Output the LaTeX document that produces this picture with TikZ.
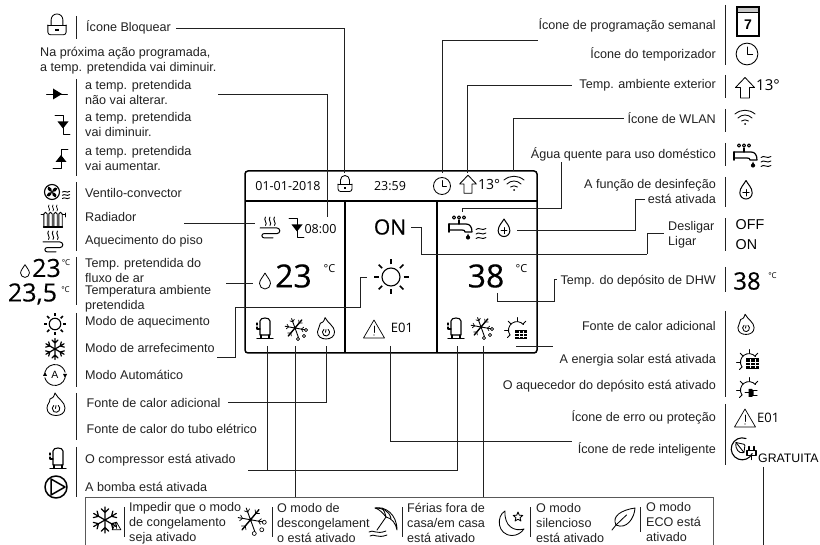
\documentclass[tikz,border=0pt]{standalone}
\usepackage{fontspec}
\setmainfont{Liberation Sans}
\newfontfamily\opsans{Open Sans}
\newfontfamily\opsansb[FakeBold=0.5]{Open Sans}
\newfontfamily\opsansm[FakeBold=0.25]{Open Sans}
\usetikzlibrary{calc}
\definecolor{ink}{gray}{0.13}
\tikzset{
 lbl/.style={font=\fontsize{12.6}{15}\selectfont,inner sep=0pt,anchor=west,align=left,text=ink},
 lblr/.style={font=\fontsize{12.6}{15}\selectfont,inner sep=0pt,anchor=east,align=right,text=ink},
 scr/.style={font=\opsans\fontsize{12.5}{13}\selectfont,inner sep=0pt,text=black},
 big/.style={font=\opsansm\fontsize{32}{32}\selectfont,inner sep=0pt,text=black},
 mid/.style={font=\opsansm\fontsize{25}{25}\selectfont,inner sep=0pt,text=black},
 deg/.style={font=\opsans\fontsize{11}{11}\selectfont,inner sep=0pt,text=black},
 degs/.style={font=\opsans\fontsize{8}{8}\selectfont,inner sep=0pt,text=black},
 frm/.style={line width=1.5pt,black},
 lead/.style={line width=.7pt,ink},
 sep/.style={line width=.8pt,ink},
 ic/.style={line width=.85pt,black,line cap=round,line join=round},
}
\newcommand{\ilock}[2][1]{\begin{scope}[shift={(#2)},scale=#1]\draw[ic](-4.5,0)--(-4.5,-4) arc(180:360:4.5)--(4.5,0);\draw[ic,rounded corners=2.5pt](-7,0)--(-7,7.5)--(7,7.5)--(7,0);\draw[ic](-7,0)--(7,0);\fill(-1.3,3) rectangle(1.3,5);\end{scope}}
\newcommand{\iclk}[2][1]{\begin{scope}[shift={(#2)},scale=#1]\draw[ic](0,0) circle(8.5);\draw[ic](0,-5.5)--(0,0.5)--(4.5,0.5);\end{scope}}
\newcommand{\ihouse}[2][1]{\begin{scope}[shift={(#2)},scale=#1]\draw[ic](-4.5,10.5)--(4.5,10.5)--(4.5,0)--(9.5,0)--(0,-10)--(-9.5,0)--(-4.5,0)--cycle;\end{scope}}
\newcommand{\iwifi}[2][1]{\begin{scope}[shift={(#2)},scale=#1]\draw[ic](-10,-3) .. controls (-4,-8) and (4,-8) .. (10,-3);\draw[ic](-7,1) .. controls (-3,-3) and (3,-3) .. (7,1);\draw[ic](-3.5,4) .. controls (-1,2.5) and (1,2.5) .. (3.5,4);\fill(0,7) circle(1);\end{scope}}
\newcommand{\iwaves}[2][1]{\begin{scope}[shift={(#2)},scale=#1]\foreach \yy in {-4.5,0,4.5}{\draw[ic,line width=.9pt](-5,\yy+.5) .. controls (-2,\yy-2.5) and (1,\yy+2.5) .. (5,\yy-.5);}\end{scope}}
\newcommand{\itap}[2][1]{\begin{scope}[shift={(#2)},scale=#1]
 \draw[ic,line width=1.8pt](-13,-3)--(-13,5);
 \draw[ic,line width=1.2pt](-13,-3)--(4,-3) .. controls (8,-3) and (10,0) .. (10,5)--(3,5) .. controls (3,3.5) and (2,3) .. (0,3)--(-13,3);
 \draw[ic,line width=1.2pt](-3,-3)--(-3,-7);
 \draw[ic,line width=1.1pt](-8,-9.5) circle(1.6)(-3,-9.5) circle(1.6)(2,-9.5) circle(1.6);
 \fill(6,10.5) circle(2.1);\fill(4.6,10)--(6,6.5)--(7.4,10)--cycle;
 \iwaves{19,6.5}
\end{scope}}
\newcommand{\idropp}[2][1]{\begin{scope}[shift={(#2)},scale=#1]\draw[ic,line width=1pt](0,-10) .. controls (-2,-6) and (-6.5,-2.5) .. (-6.5,3) arc(180:0:6.5) .. controls (6.5,-2.5) and (2,-6) .. (0,-10);\draw[ic,line width=1pt](-3.3,3)--(3.3,3)(0,-.3)--(0,6.3);\end{scope}}
\newcommand{\idrop}[2][1]{\begin{scope}[shift={(#2)},scale=#1]\draw[ic,line width=.8pt](0,-8) .. controls (-2,-4) and (-5.5,-1) .. (-5.5,2.5) arc(180:0:5.5) .. controls (5.5,-1) and (2,-4) .. (0,-8);\end{scope}}
\newcommand{\isun}[2][1]{\begin{scope}[shift={(#2)},scale=#1]\draw[ic,line width=1.1pt](0,0) circle(9);\foreach \a in {0,45,...,315}{\draw[line width=1.5pt](\a:12.5)--(\a:17.5);}\end{scope}}
\newcommand{\isnow}[2][1]{\begin{scope}[shift={(#2)},scale=#1]\foreach \a in {30,90,...,330}{\draw[ic,line width=1.2pt](0,0)--(\a:10.5)(\a:6)--++(\a+45:4.3)(\a:6)--++(\a-45:4.3);}\end{scope}}
\newcommand{\icomp}[2][1]{\begin{scope}[shift={(#2)},scale=#1]\draw[ic,line width=1.1pt](-5,7)--(-5,-7) .. controls (-5,-11) and (5,-11) .. (5,-7)--(5,7)--cycle;\draw[ic,line width=1.1pt](-8,10.5)--(8,10.5)(-4,7)--(-4,10.5)(4,7)--(4,10.5);\draw[ic,line width=1.1pt](-8,-5)--(-8,-3)(-8,-1)--(-8,1)(-8,1)--(-5,1);\end{scope}}
\newcommand{\iflame}[2][1]{\begin{scope}[shift={(#2)},scale=#1]\draw[ic](-1,-12) .. controls (2,-6) and (9,-3) .. (9,3) .. controls (9,8) and (5,10.5) .. (0,10.5) .. controls (-5,10.5) and (-9,8) .. (-9,3) .. controls (-9,-1) and (-6,-2) .. (-6,-6) .. controls (-4,-6) and (-2,-8) .. (-1,-12);\draw[ic](0,3.5)+(305:3.8) arc(305:595:3.8);\draw[ic](0,.5)--(-.5,3.5);\end{scope}}
\newcommand{\idefrost}[2][1]{\begin{scope}[shift={(#2)},scale=#1]\foreach \a in {10,70,190,250}{\draw[ic,line width=.9pt](-2,-1)--++(\a:10);}\foreach \a in {-50,130}{\draw[ic,line width=1.4pt](-2,-1)--++(\a:10.5);}\foreach \a in {-50,10,130,190,250}{\draw[ic,line width=.7pt]($(-2,-1)+(\a:6.5)$)--++(\a+50:3)($(-2,-1)+(\a:6.5)$)--++(\a-50:3);}
\fill(-2,-1)circle(1.5);\foreach \p in {(9,1),(7,7),(1,10)}{\draw[ic,line width=.65pt]\p circle(1.6);}\end{scope}}
\newcommand{\isolar}[2][1]{\begin{scope}[shift={(#2)},scale=#1]\draw[ic](-7,7) arc(145:320:8.5);\foreach \a in {180,225,270,315}{\draw[ic]($(-.0,2)+(\a:8.5)$)--($(0,2)+(\a:12.5)$);}\draw[ic](-7,7)--(-9.5,9.5);\end{scope}}
\newcommand{\igrid}[2][1]{\begin{scope}[shift={(#2)},scale=#1]\fill[black](-6,-4.5) rectangle (6,4.5);\draw[white,line width=.5pt](-6,-1.5)--(6,-1.5)(-6,1.5)--(6,1.5)(-2,-3.8)--(-2,3.8)(2,-3.8)--(2,3.8);\end{scope}}
\newcommand{\iplug}[2][1]{\begin{scope}[shift={(#2)},scale=#1]\draw[ic,line width=1pt](-6,0)--(-2,0)(2,-2.5)--(6,-2.5)(2,2.5)--(6,2.5);\fill(-2.5,-4)--(1,-4)--(2.5,-2)--(2.5,2)--(1,4)--(-2.5,4)--cycle;\end{scope}}
\newcommand{\iwarn}[2][1]{\begin{scope}[shift={(#2)},scale=#1]\draw[ic,line width=.7pt](-10.5,9)--(0,-9)--(10.5,9)--cycle;\draw[ic,line width=.7pt](0,-3)--(0,3.5);\fill(0,6) circle(.7);\end{scope}}
\newcommand{\ifan}[2][1]{\begin{scope}[shift={(#2)},scale=#1]\draw[ic,line width=1.1pt](0,0) circle(7.5);\foreach \a in {0,90,180,270}{\fill[rotate=\a](0,0) .. controls (1,-4) and (3,-5.5) .. (5.5,-3.5) .. controls (5,-1) and (3,0) .. (0,0);}\end{scope}\iwaves[.72]{$(#2)+(14,3)$}}
\newcommand{\irad}[2][1]{\begin{scope}[shift={(#2)},scale=#1]\foreach \x in {-7.5,-2.5,2.5,7.5}{\draw[ic,line width=.9pt](\x-1.7,11)--(\x-1.7,-2) arc(180:360:1.7)--(\x+1.7,11);}\draw[ic,line width=1.1pt](-9.5,11)--(9.5,11);\draw[ic](-12,-1.5)--(-9.2,-1.5)(9.2,-1.5)--(12,-1.5);\draw[ic](12,-3)--(12,1);
\foreach \x in {-4,0,4}{\draw[ic,line width=.7pt](\x,-11) .. controls (\x-2,-9) and (\x+2,-7) .. (\x,-5);}\end{scope}}
\newcommand{\ifloor}[2][1]{\begin{scope}[shift={(#2)},scale=#1]\foreach \x in {-4.5,0,4.5}{\draw[ic,line width=.9pt](\x,-10) .. controls (\x-2.5,-7) and (\x+2.5,-4) .. (\x,-1.5);}\draw[ic,line width=1pt](-10,1)--(7,1) arc(270:450:2.8)--(-6,6.6) arc(270:90:2.1)--(3,10.8);\end{scope}}
\newcommand{\isame}[2][1]{\begin{scope}[shift={(#2)},scale=#1]\draw[ic](-10.5,0)--(10.5,0);\fill(-4,-5.5)--(-4,5.5)--(5,0)--cycle;\end{scope}}
\newcommand{\idown}[2][1]{\begin{scope}[shift={(#2)},scale=#1]\draw[ic](-8,-9.5)--(0,-9.5)--(0,9.5)--(7,9.5);\fill(-5.5,-3.5)--(5.5,-3.5)--(0,3.5)--cycle;\end{scope}}
\newcommand{\iup}[2][1]{\begin{scope}[shift={(#2)},scale=#1]\draw[ic](8,-9.5)--(1,-9.5)--(1,9.5)--(-7,9.5);\fill(-4.5,3.5)--(6.5,3.5)--(1,-3.5)--cycle;\end{scope}}
\newcommand{\icalendar}[2][1]{\begin{scope}[shift={(#2)},scale=#1]\fill[black!22](-11,-14.5) rectangle (11,-9);\draw[ic,line width=1.1pt,line join=miter](-11,-14.5) rectangle (11,14.5)(-11,-9)--(11,-9);\node[inner sep=0pt,font=\bfseries\fontsize{14}{14}\selectfont] (calseven) at (0,3){7};\end{scope}}
\newcommand{\ipump}[2][1]{\begin{scope}[shift={(#2)},scale=#1]\draw[ic,line width=1.5pt](0,0) circle(11);\draw[ic,line width=1.5pt](-5,-8)--(9,0)--(-5,8)--cycle;\end{scope}}
\newcommand{\iauto}[2][1]{\begin{scope}[shift={(#2)},scale=#1]\draw[ic](0,0)+(195:10.5) arc(195:345:10.5);\draw[ic](0,0)+(15:10.5) arc(15:165:10.5);\fill(-12,1)--(-8,1)--(-10,-3)--cycle;\fill(8,-1)--(12,-1)--(10,3)--cycle;\node[inner sep=0pt,font=\fontsize{10.5}{11}\selectfont] (autoa) at (0,0){A};\end{scope}}
\newcommand{\ismartgrid}[2][1]{\begin{scope}[shift={(#2)},scale=#1]\draw[ic,line width=1.1pt](4,-10) arc(-70:-335:11);\draw[ic,rounded corners=1pt](-6,-6)--(3,-4)--(2,4) .. controls (-3,5) and (-7,1) .. (-6,-6);\draw[ic](-6,-6)--(2,4);\draw[ic,line width=1.2pt](5,2) rectangle(14,7)(7,2)--(7,-2)(12,2)--(12,-2)(9.5,7)--(9.5,11);\end{scope}}
\newcommand{\ihol}[2][1]{\begin{scope}[shift={(#2)},scale=#1]\draw[ic](3,-5)--(-6,8);\draw[ic](-8,-14) .. controls (2,-16) and (14,-8) .. (14,8) .. controls (13,2) and (9,-4) .. (3,-5) .. controls (0,-9) and (-4,-13) .. (-8,-14);\draw[ic](-8,-14) .. controls (-1,-14) and (6,-12) .. (8,-3.5);\draw[ic](3,-5) .. controls (2,-9) and (1,-12) .. (-1,-14);\draw[ic](-14,10) .. controls (-10,7) and (-7,13) .. (3,9);\draw[ic](-13,14) .. controls (-9,11) and (-6,17) .. (4,13);\end{scope}}
\newcommand{\imoon}[2][1]{\begin{scope}[shift={(#2)},scale=#1]\draw[ic](-6,-12) .. controls (-15,-7) and (-14,12) .. (1,12.5) .. controls (6,12.5) and (10,10) .. (13,6) .. controls (3,9) and (-7,3) .. (-6,-12);\draw[ic,shift={(7,-6)}](-90:5) -- (-54:2.2) -- (-18:5) -- (18:2.2) -- (54:5) -- (90:2.2) -- (126:5) -- (162:2.2) -- (198:5) -- (234:2.2) -- cycle;\end{scope}}
\newcommand{\ileaf}[2][1]{\begin{scope}[shift={(#2)},scale=#1]\draw[ic](-11.5,11)--(-7.5,6);\draw[ic](-7.5,6) .. controls (-12,-3) and (-2,-9) .. (11.5,-11) .. controls (11,-1) and (3,11) .. (-7.5,6);\draw[ic](-7.5,6)--(3,-4);\end{scope}}
\begin{document}
\begin{tikzpicture}[x=1pt,y=-1pt]
\useasboundingbox (0,0) rectangle (820,545);
% ---------- screen ----------
\draw[frm,rounded corners=3pt](245,353)rectangle(537,171);
\draw[frm](245,201)--(537,201)(345,201)--(345,353)(437,201)--(437,353);
\node[scr] (date) at (288,186){01-01-2018};
\node[scr] (time) at (390,186){23:59};
\ilock{345,184}
\iclk{442,186}
\ihouse[.88]{468,184}
\node[scr,font=\opsans\fontsize{14}{14}\selectfont] (stemp) at (489,185){13°};
\iwifi{514,183}
\ifloor{270,227}
\idown{297,228}
\node[scr] (stime) at (320.5,229){08:00};
\idrop{265,281}
\node[big] (st) at (293.5,276){23};
\node[deg] (stc) at (329.5,269){°C};
\node[font=\opsansb\fontsize{21}{21}\selectfont,inner sep=0pt] (on) at (390,227){ON};
\isun{391,277}
\itap{462,227}
\idropp[.9]{504,228}
\node[big] (dt) at (486,276){38};
\node[deg] (dtc) at (521.5,269){°C};
\icomp{265,328}
\idefrost{297,329}
\iflame[.95]{326,329}
\iwarn{374,329}
\node[scr,font=\opsans\fontsize{13}{13}\selectfont] (serr) at (402,328){E01};
\icomp{456,328}
\idefrost{483,328}
\isolar{517,328}
\igrid{521,334.5}
% ---------- left column ----------
\draw[sep](76,16)--(76,39)(76.5,79)--(76.5,176)(76.5,182)--(76.5,251)(76.5,257)--(76.5,305)(76.5,313)--(76.5,387)(76.5,393)--(76.5,440)(76.5,447)--(76.5,497);
\ilock[1.3]{57,25}
\node[lbl] (l1) at (86,27){Ícone Bloquear};
\node[lbl] (l2) at (40,61){Na próxima ação programada,\\a temp. pretendida vai diminuir.};
\isame{57,94}
\node[lbl] (l3) at (85,92.5){a temp. pretendida\\não vai alterar.};
\idown{63,125}
\node[lbl] (l4) at (85,124.5){a temp. pretendida\\vai diminuir.};
\iup{60,158.5}
\node[lbl] (l5) at (85,158.5){a temp. pretendida\\vai aumentar.};
\ifan{52,192}
\node[lbl] (l6) at (85,193){Ventilo-convector};
\irad{53,216}
\node[lbl] (l7) at (85,217){Radiador};
\ifloor{53,241}
\node[lbl] (l8) at (85,241){Aquecimento do piso};
\idrop[.8]{25,271}
\node[mid] (lt1) at (46.5,268){23};
\node[degs] (lc1) at (66,263){°C};
\node[lbl] (l9) at (85,270){Temp. pretendida do\\fluxo de ar};
\node[mid] (lt2) at (32.5,294){23,5};
\node[degs] (lc2) at (65.5,290){°C};
\node[lbl] (l10) at (85,298.5){Temperatura ambiente\\pretendida};
\isun[.64]{55,324}
\node[lbl] (l11) at (85,322){Modo de aquecimento};
\isnow{55,349}
\node[lbl] (l12) at (85,348){Modo de arrefecimento};
\iauto{55,375}
\node[lbl] (l13) at (85,375){Modo Automático};
\iflame{56,405}
\node[lbl] (l14) at (86.5,403){Fonte de calor adicional};
\node[lbl] (l15) at (86.5,429){Fonte de calor do tubo elétrico};
\icomp{58,458}
\node[lbl] (l16) at (85,460){O compressor está ativado};
\ipump{56,487}
\node[lbl] (l17) at (85,487){A bomba está ativada};
% ---------- right column ----------
\draw[sep](725.5,5)--(725.5,65)(725.5,75)--(725.5,98)(725.5,109)--(725.5,132)(725.5,143)--(725.5,166)(725.5,177)--(725.5,207)(725.5,218)--(725.5,251)(725.5,267)--(725.5,292)(725.5,311)--(725.5,397)(725.5,404)--(725.5,465);
\node[lblr] (r1) at (716,25){Ícone de programação semanal};
\node[lblr] (r2) at (716,54){Ícone do temporizador};
\node[lblr] (r3) at (716,85){Temp. ambiente exterior};
\node[lblr] (r4) at (716,118){Ícone de WLAN};
\node[lblr] (r5) at (716,154){Água quente para uso doméstico};
\node[lblr] (r6) at (716,191){A função de desinfeção\\está ativada};
\node[lbl] (r7) at (668,235){Desligar\\Ligar};
\node[lblr] (r8) at (716,281){Temp. do depósito de DHW};
\node[lblr] (r9) at (716,326){Fonte de calor adicional};
\node[lblr] (r10) at (716,360){A energia solar está ativada};
\node[lblr] (r11) at (716,386){O aquecedor do depósito está ativado};
\node[lblr] (r12) at (716,417){Ícone de erro ou proteção};
\node[lblr] (r13) at (716,449){Ícone de rede inteligente};
\icalendar{748,21.5}
\iclk[1.28]{747,54}
\ihouse{745,87.5}
\node[scr,font=\opsans\fontsize{15}{15}\selectfont,anchor=west] (rtemp) at (756,85){13°};
\iwifi{745,117}
\itap{747,155}
\idropp[.95]{746,190}
\node[font=\fontsize{14.3}{14.3}\selectfont,inner sep=0pt,anchor=west] (roff) at (735.5,225){OFF};
\node[font=\fontsize{14.3}{14.3}\selectfont,inner sep=0pt,anchor=west] (ron) at (735.5,245){ON};
\node[mid,font=\opsansm\fontsize{24}{24}\selectfont] (rt) at (747,281){38};
\node[degs] (rc) at (772.5,276){°C};
\iflame[.9]{746,325}
\isolar{749,360}
\igrid[1.15]{752.5,363.5}
\isolar{749,388}
\iplug{751,393}
\iwarn{745,418}
\node[scr,font=\opsans\fontsize{13}{13}\selectfont,anchor=west] (rerr) at (757,418){E01};
\ismartgrid{742,448.5}
\node[font=\fontsize{12.3}{12.3}\selectfont,inner sep=0pt,anchor=west] (grat) at (758,458.5){GRATUITA};
% ---------- bottom box ----------
\draw[line width=.8pt,black!65](85,546)--(85,497)--(713,497)--(713,546);
\isnow[1.25]{105,520}
\iwarn[.42]{116.5,526}
\draw[sep](124.7,507)--(124.7,537)(272,507)--(272,537)(402,507)--(402,537)(530,507)--(530,537)(640,507)--(640,532);
\node[lbl] (b1) at (129,523){Impedir que o modo\\de congelamento\\seja ativado};
\idefrost[1.25]{253,521}
\node[lbl] (b2) at (277,523){O modo de\\descongelament\\o está ativado};
\ihol{383,522}
\node[lbl] (b3) at (407,523){Férias fora de\\casa/em casa\\está ativado};
\imoon{511,523}
\node[lbl] (b4) at (536,523){O modo\\silencioso\\está ativado};
\ileaf{623.5,519}
\node[lbl] (b5) at (646,522){O modo\\ECO está\\ativado};
% ---------- connector end points ----------
\coordinate (a1) at (176,28);  \coordinate (a2) at (344,173);
\coordinate (b1a) at (218,94); \coordinate (b2a) at (327,217);
\coordinate (c1) at (442,173); \coordinate (c2) at (538,40);
\coordinate (d1) at (467,173); \coordinate (d2) at (572,85);
\coordinate (e1) at (513,171); \coordinate (e2) at (624,118);
\coordinate (f1) at (462,212); \coordinate (f2) at (561,208); \coordinate (f3) at (561,162);
\coordinate (g1) at (517,230); \coordinate (g2) at (635,230); \coordinate (g3) at (645,199);
\coordinate (h1) at (411,227); \coordinate (h2) at (421,254); \coordinate (h3) at (647,254); \coordinate (h4) at (664,233);
\coordinate (k1) at (497,293); \coordinate (k2) at (554,301); \coordinate (k3) at (557,279);
\coordinate (m1) at (516,346); \coordinate (m2) at (553,346);
\coordinate (n1) at (184,223); \coordinate (n2) at (255,223);
\coordinate (o1) at (226,283); \coordinate (o2) at (253,283);
\coordinate (p1) at (367,277); \coordinate (p2) at (360,307); \coordinate (p3) at (235,357); \coordinate (p4) at (217,357);
\coordinate (q1) at (228,402); \coordinate (q2) at (326,346);
\coordinate (s1) at (248,470); \coordinate (s2) at (267,346); \coordinate (s3) at (457,346); \coordinate (s4) at (267,470);\coordinate (s5) at (457,470);
\coordinate (t1) at (295,346); \coordinate (t2) at (295,497);
\coordinate (u1) at (390,346); \coordinate (u2) at (572,441);
\coordinate (v1) at (483,346); \coordinate (v2) at (483,497);
\coordinate (w1) at (763,467); \coordinate (w2) at (763,545);
\draw[lead](a1)-|(a2);
\draw[lead](b1a)-|(b2a);
\draw[lead](c1)|-(c2);
\draw[lead](d1)|-(d2);
\draw[lead](e1)|-(e2);
\draw[lead](f1)|-(f2)--(f3);
\draw[lead](g1)--(g2)|-(g3);
\draw[lead](h1)-|(h2)--(h3);
\draw[lead](h3)|-(h4);
\draw[lead](k1)|-(k2)|-(k3);
\draw[lead](m1)--(m2);
\draw[lead](n1)--(n2);
\draw[lead](o1)--(o2);
\draw[lead](p1)-|(p2)-|(p3)--(p4);
\draw[lead](q1)-|(q2);
\draw[lead](s1)--(s5)--(s3);
\draw[lead](s2)--(s4);
\draw[lead](t1)--(t2);
\draw[lead](u1)|-(u2);
\draw[lead](v1)--(v2);
\draw[lead](w1)--(w2);
\end{tikzpicture}
\end{document}
